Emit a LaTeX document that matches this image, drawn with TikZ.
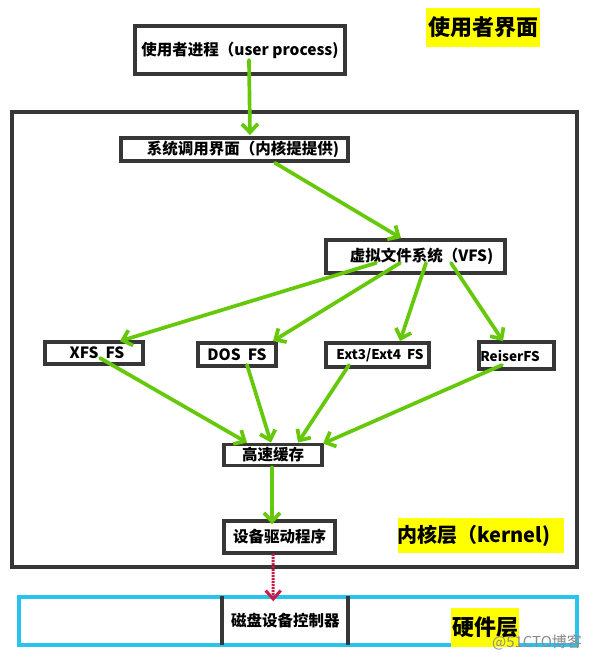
\documentclass[tikz,border=0pt]{standalone}
\usepackage{fontspec}
\setmainfont{Noto Sans CJK SC}
\usetikzlibrary{arrows.meta,calc}
\definecolor{boxgray}{RGB}{55,55,55}
\definecolor{arrgreen}{RGB}{102,200,10}
\definecolor{hwcyan}{RGB}{40,196,238}
\definecolor{hlyellow}{RGB}{255,255,0}
\definecolor{reddash}{RGB}{205,25,70}
\definecolor{wmgray}{RGB}{140,140,140}
\begin{document}
\begin{tikzpicture}[x=1pt,y=-1pt,
  fbox/.style={draw=boxgray, line width=3.8pt, rectangle, inner sep=0pt, fill=white,
    font=\bfseries\fontsize{15.5}{18}\selectfont},
  smallbox/.style={fbox, font=\bfseries\fontsize{13.5}{16}\selectfont},
  garrow/.style={draw=arrgreen, line width=3.7pt, line cap=round,
    -{Straight Barb[length=8.5pt,width=16pt]}},
  rarrow/.style={draw=reddash, line width=3pt, dash pattern=on 2pt off 1pt,
    -{Straight Barb[length=8.5pt,width=15pt]}},
  layerlabel/.style={fill=hlyellow, inner sep=0pt, font=\bfseries\fontsize{22}{26}\selectfont},
]
\useasboundingbox (0,0) rectangle (597,659);

% layer frames
\node[draw=boxgray, line width=3.8pt, minimum width=565pt, minimum height=455pt] (kernel) at (294.5,339.5) {};
\node[draw=hwcyan, line width=3.8pt, minimum width=558pt, minimum height=48pt] (hw) at (298,621) {};

% boxes
\node[fbox, minimum width=210pt, minimum height=48pt] (user) at (240,50) {使用者进程（user process)};
\node[fbox, minimum width=227pt, minimum height=23pt] (sys) at (234.5,149.5) {\hspace*{17pt}系统调用界面（内核提提供)};
\node[fbox, minimum width=179pt, minimum height=33pt] (vfs) at (415.5,256.5) {\hspace*{12pt}虚拟文件系统（VFS)};
\node[fbox, minimum width=98pt, minimum height=22pt] (xfs) at (94,353) {\hspace*{6pt}XFS\ \ FS};
\node[fbox, minimum width=78pt, minimum height=23pt] (dos) at (237,354.5) {DOS\ \ FS};
\node[smallbox, minimum width=103pt, minimum height=24pt] (ext) at (377.5,355) {\hspace*{5pt}Ext3/Ext4\ \ FS};
\node[smallbox, minimum width=75pt, minimum height=27pt] (reiser) at (516.5,355.5) {ReiserFS\hspace*{13pt}};
\node[fbox, minimum width=98pt, minimum height=21pt] (cache) at (273,455) {高速缓存};
\node[fbox, minimum width=111pt, minimum height=32pt] (driver) at (279.5,537) {设备驱动程序};
\node[inner sep=0pt, minimum width=125.5pt, minimum height=48pt,
  font=\bfseries\fontsize{15.5}{18}\selectfont] (disk) at (285.25,620.5) {磁盘设备控制器};
\draw[boxgray, line width=3.8pt] (disk.north west) -- (disk.south west);
\draw[boxgray, line width=3.8pt] (disk.north east) -- (disk.south east);

% layer labels
\node[layerlabel, minimum width=114pt, minimum height=39pt] (ulabel) at (483,27.5) {使用者界面};
\node[layerlabel, minimum width=162pt, minimum height=35pt,
  font=\bfseries\fontsize{20}{24}\selectfont] (klabel) at (481,535.5) {内核层（kernel)\hspace*{14pt}};
\node[layerlabel, minimum width=68pt, minimum height=39pt] (hlabel) at (485,627.5) {硬件层};

% connectors
\draw[garrow] ($(user.center)+(9,10)$) -- ($(sys.north)+(15.5,-1)$);
\draw[garrow] ($(sys.south)+(40.5,0)$) -- ($(vfs.north)+(-14.5,0)$);
\draw[garrow] ($(vfs.center)+(-39.5,6.5)$) -- ($(xfs.north)+(26,1)$);
\draw[garrow] ($(vfs.center)+(-15.5,6.5)$) -- ($(dos.north)+(36,0)$);
\draw[garrow] ($(vfs.center)+(10.5,6.5)$) -- ($(ext.north)+(22.5,0)$);
\draw[garrow] ($(vfs.center)+(35.5,6.5)$) -- ($(reiser.north)+(-13.5,1)$);
\draw[garrow] ($(xfs.center)+(6,5)$) -- ($(cache.north)+(-26,0)$);
\draw[garrow] ($(dos.south)+(10,-3)$) -- ($(cache.north)+(-2,0)$);
\draw[garrow] ($(ext.center)+(-28.5,10)$) -- ($(cache.north)+(25,0)$);
\draw[garrow] ($(reiser.center)+(-14.5,9.5)$) -- ($(cache.north)+(50,1)$);
\draw[garrow] ($(cache.south)+(-1,0)$) -- ($(driver.north)+(-7.5,5)$);
\draw[rarrow] ($(driver.south)+(-6.5,-1)$) -- ($(disk.north)+(-12,5)$);

% watermark
\node[text=wmgray, inner sep=0pt, font=\fontsize{15}{18}\selectfont] (wm) at (537,642) {@51CTO博客};
\end{tikzpicture}
\end{document}
